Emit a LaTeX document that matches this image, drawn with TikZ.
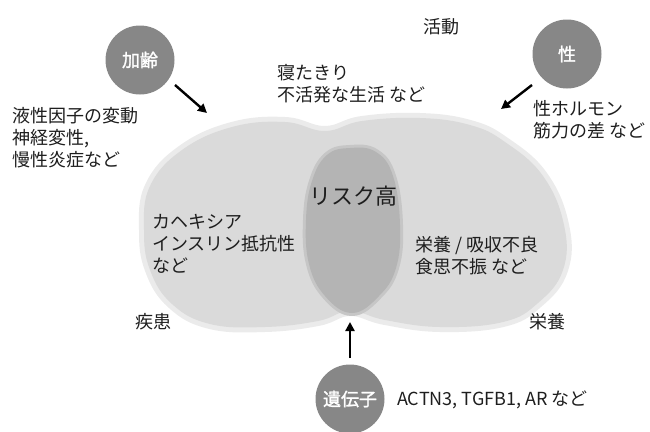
\documentclass[tikz,border=0pt]{standalone}
\usepackage{fontspec}
\setmainfont{Noto Sans CJK JP}
\newfontfamily\cjkb[FakeBold=1.5]{Noto Sans CJK JP}
\usetikzlibrary{arrows.meta}
\definecolor{cloudhalo}{HTML}{EBEBEB}
\definecolor{cloudlight}{HTML}{DADADA}
\definecolor{darkhalo}{HTML}{C6C6C6}
\definecolor{clouddark}{HTML}{B4B4B4}
\definecolor{circfill}{HTML}{878787}
\definecolor{ink}{HTML}{1E1E1E}
\begin{document}
\begin{tikzpicture}[x=1pt,y=-1pt,
  lbl/.style={font=\fontsize{18}{22}\selectfont, text=ink, inner sep=0pt, align=left, anchor=west},
  factor/.style={circle, fill=circfill, minimum size=69pt, inner sep=0pt, text=white,
                 font=\cjkb\fontsize{18}{20}\selectfont},
  arr/.style={line width=2.4pt, draw=black, -{Triangle[length=9pt,width=9pt]}}]
\useasboundingbox (0,0) rectangle (650,431);
% cloud
\def\cloudpath{plot[smooth cycle, tension=0.7] coordinates {
  (144,230) (150,186) (182,150) (232,127) (285,122) (325,131) (362,121) (420,118) (470,125)
  (505,142) (543,176) (564,225) (563,270) (538,303) (503,322) (440,327) (385,320)
  (350,311) (318,321) (265,327) (210,324) (172,304) (150,270)}}
\draw[cloudhalo, line width=10pt, line join=round, fill=cloudhalo] \cloudpath;
\fill[cloudlight] \cloudpath;
\def\darkpath{plot[smooth cycle, tension=0.7] coordinates {
  (350,148) (376,152) (393,176) (400,225) (396,268) (379,296) (352,313) (325,296)
  (309,264) (306,220) (312,181) (327,155)}}
\draw[darkhalo, line width=6pt, line join=round, fill=darkhalo] \darkpath;
\fill[clouddark] \darkpath;
% factor circles
\node[factor] (age) at (140,60) {加齢};
\node[factor] (sex) at (567,54) {性};
\node[factor] (gene) at (350,399) {遺伝子};
% labels
\node[lbl, anchor=center] (act) at (441,27) {活動};
\node[lbl, anchor=center] (dis) at (153,322) {疾患};
\node[lbl, anchor=center] (nut) at (547,322) {栄養};
\node[lbl, anchor=center, font=\fontsize{22}{26}\selectfont] (risk) at (353,196) {リスク高};
\node[lbl] (agetxt) at (12,138) {液性因子の変動\\神経変性,\\慢性炎症など};
\node[lbl] (acttxt) at (277,84) {寝たきり\\不活発な生活 など};
\node[lbl] (sextxt) at (533,120) {性ホルモン\\筋力の差 など};
\node[lbl] (distxt) at (152,244) {カヘキシア\\インスリン抵抗性\\など};
\node[lbl] (nuttxt) at (415,256) {栄養 / 吸収不良\\食思不振 など};
\node[lbl] (genetxt) at (397,400) {ACTN3, TGFB1, AR など};
% arrows
\coordinate (a1s) at (175,85);
\coordinate (a1e) at (207,113);
\coordinate (a2s) at (532,85);
\coordinate (a2e) at (501,109);
\coordinate (a3s) at (350,358);
\coordinate (a3e) at (350,322);
\draw[arr] (a1s) -- (a1e);
\draw[arr] (a2s) -- (a2e);
\draw[arr] (a3s) -- (a3e);
\end{tikzpicture}
\end{document}
